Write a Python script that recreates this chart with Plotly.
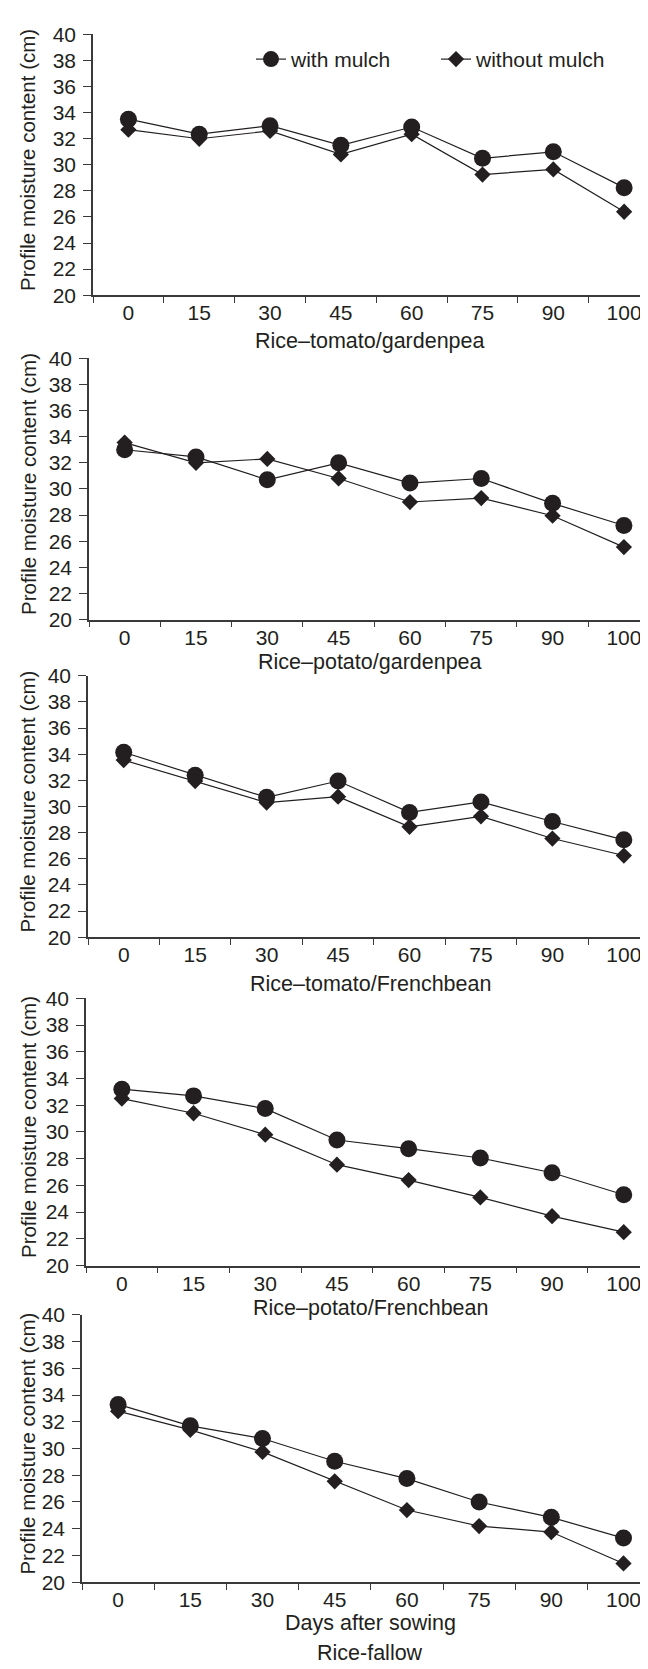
import plotly.graph_objects as go

# ---------------- data ----------------
days = ["0", "15", "30", "45", "60", "75", "90", "100"]
series_names = ["with mulch", "without mulch"]
panel_titles = ["Rice\u2013tomato/gardenpea", "Rice\u2013potato/gardenpea",
                "Rice\u2013tomato/Frenchbean", "Rice\u2013potato/Frenchbean",
                "Days after sowing"]
y_title = "Profile moisture content (cm)"
extra_title = "Rice-fallow"
y_ticks = [20, 22, 24, 26, 28, 30, 32, 34, 36, 38, 40]

rtg_with = [33.5, 32.35, 33.0, 31.5, 32.9, 30.5, 31.0, 28.25]
rtg_without = [32.7, 32.0, 32.6, 30.8, 32.35, 29.25, 29.65, 26.4]
rpg_with = [33.0, 32.45, 30.7, 32.0, 30.45, 30.8, 28.9, 27.2]
rpg_without = [33.55, 32.0, 32.3, 30.8, 29.0, 29.3, 27.95, 25.55]
rtf_with = [34.15, 32.4, 30.7, 31.95, 29.55, 30.35, 28.85, 27.45]
rtf_without = [33.55, 31.95, 30.3, 30.75, 28.45, 29.25, 27.55, 26.25]
rpf_with = [33.2, 32.7, 31.75, 29.4, 28.75, 28.05, 26.95, 25.3]
rpf_without = [32.5, 31.4, 29.8, 27.55, 26.4, 25.1, 23.7, 22.5]
rf_with = [33.3, 31.7, 30.75, 29.05, 27.75, 26.0, 24.85, 23.3]
rf_without = [32.8, 31.4, 29.75, 27.55, 25.4, 24.2, 23.75, 21.4]

with_series = [rtg_with, rpg_with, rtf_with, rpf_with, rf_with]
without_series = [rtg_without, rpg_without, rtf_without, rpf_without, rf_without]

# ---------------- layout geometry (pixels) ----------------
W, H = 648, 1669
panel_top = [14.7, 343, 665, 992, 1313]
panel_bottom = [279, 608, 930, 1263, 1584]
panel_left = [85, 81, 80, 78, 74]
xtitle_y = [325, 651, 977, 1306, 1625]
extra_title_y = 1656
ytitle_x = 20
ytitle_shift = 5

INK = "#231f20"
AX = "#3a3a3a"
FONT = "Liberation Sans, Arial, Helvetica, sans-serif"

fig = go.Figure()
layout = dict(
    width=W, height=H,
    margin=dict(l=0, r=0, t=0, b=0),
    paper_bgcolor="white", plot_bgcolor="white",
    font=dict(family=FONT, color=INK, size=21),
    showlegend=True,
    legend=dict(orientation="h", x=243 / W, xanchor="left",
                y=1 - 40 / H, yanchor="middle",
                font=dict(size=21, family=FONT, color=INK),
                bgcolor="rgba(0,0,0,0)", itemwidth=30,
                entrywidth=140, entrywidthmode="pixels"),
)

annotations = []
for i in range(5):
    n = i + 1
    xr = f"x{n}" if n > 1 else "x"
    yr = f"y{n}" if n > 1 else "y"
    fig.add_trace(go.Scatter(
        x=days, y=with_series[i], xaxis=xr, yaxis=yr,
        mode="lines+markers", name=series_names[0], showlegend=(i == 0),
        line=dict(color=INK, width=1.2),
        marker=dict(symbol="circle", size=17, color=INK)))
    fig.add_trace(go.Scatter(
        x=days, y=without_series[i], xaxis=xr, yaxis=yr,
        mode="lines+markers", name=series_names[1], showlegend=(i == 0),
        line=dict(color=INK, width=1.2),
        marker=dict(symbol="diamond", size=12.5, color=INK)))

    layout["xaxis" + (str(n) if n > 1 else "")] = dict(
        domain=[panel_left[i] / W, 1], anchor=yr,
        type="category", categoryorder="array", categoryarray=days,
        range=[-0.5, 7.45], tickson="boundaries",
        ticks="outside", ticklen=6, tickwidth=1.3, tickcolor=AX,
        ticklabelstandoff=-2,
        showline=True, linecolor=AX, linewidth=1.5,
        showgrid=False, zeroline=False, fixedrange=True,
        tickfont=dict(size=21, family=FONT, color=INK))
    layout["yaxis" + (str(n) if n > 1 else "")] = dict(
        domain=[1 - panel_bottom[i] / H, 1 - panel_top[i] / H], anchor=xr,
        range=[20, 40], tickvals=y_ticks,
        ticks="outside", ticklen=8, tickwidth=1.3, tickcolor=AX,
        ticklabelstandoff=3,
        showline=True, linecolor=AX, linewidth=1.5,
        showgrid=False, zeroline=False, fixedrange=True,
        tickfont=dict(size=21, family=FONT, color=INK))

    annotations.append(dict(
        text=panel_titles[i], xref="paper", yref="paper",
        x=362 / W, y=1 - xtitle_y[i] / H, xanchor="center", yanchor="middle",
        showarrow=False, font=dict(size=21.5, family=FONT, color=INK)))
    annotations.append(dict(
        text=y_title, xref="paper", yref="paper", textangle=-90,
        x=ytitle_x / W,
        y=1 - ((panel_top[i] + panel_bottom[i]) / 2 - ytitle_shift) / H,
        xanchor="center", yanchor="middle",
        showarrow=False, font=dict(size=20.5, family=FONT, color=INK)))

annotations.append(dict(
    text=extra_title, xref="paper", yref="paper",
    x=362 / W, y=1 - extra_title_y / H, xanchor="center", yanchor="middle",
    showarrow=False, font=dict(size=21.5, family=FONT, color=INK)))

layout["annotations"] = annotations
fig.update_layout(**layout)
fig.write_html("out.html")
